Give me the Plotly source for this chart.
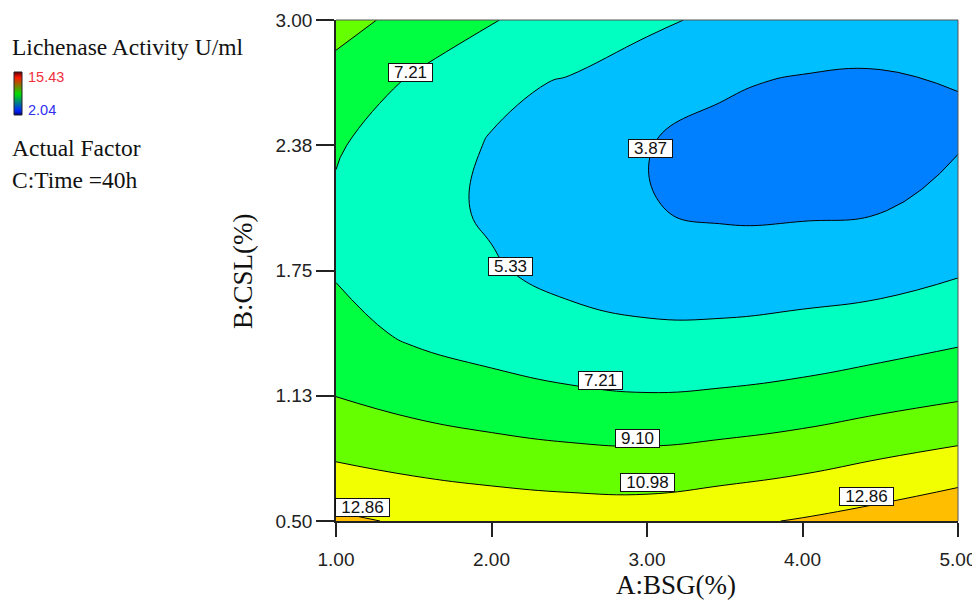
import numpy as np
import plotly.graph_objects as go

# The page places the figure 8 px from the window's top-left corner.
OFF = 8
W, H = 980 - OFF, 604 - OFF

# ---------------- data ----------------
bsg = [1.0, 1.5, 2.0, 2.5, 3.0, 3.5, 4.0, 4.5, 5.0]          # A: BSG (%)
csl = [0.5, 0.8125, 1.125, 1.4375, 1.75, 2.0625, 2.375, 2.6875, 3.0]  # B: CSL (%)
# Lichenase activity (U/ml); one row per CSL value, columns follow bsg
activity = [
    [13.20, 12.60, 12.30, 12.10, 12.06, 12.50, 13.00, 13.60, 14.40],
    [10.85, 10.34, 9.94, 9.64, 9.53, 9.84, 10.29, 10.95, 11.52],
    [9.07, 8.39, 7.89, 7.50, 7.30, 7.45, 7.78, 8.32, 8.85],
    [7.85, 6.90, 6.36, 5.87, 5.60, 5.63, 5.85, 6.22, 6.74],
    [7.06, 6.14, 5.49, 4.84, 4.49, 4.38, 4.49, 4.60, 5.14],
    [6.95, 5.90, 5.11, 4.39, 3.92, 3.69, 3.70, 3.80, 4.22],
    [7.38, 6.17, 5.22, 4.50, 3.90, 3.56, 3.46, 3.50, 3.81],
    [8.34, 6.97, 5.70, 5.19, 4.51, 3.99, 3.75, 3.72, 3.88],
    [9.80, 8.45, 7.30, 6.45, 5.63, 4.99, 4.66, 4.44, 4.55],
]
levels = [5.33, 7.21, 9.10, 10.98, 12.86]
low_level = 3.87
x_ticks = [1.0, 2.0, 3.0, 4.0, 5.0]
x_ticktext = ["1.00", "2.00", "3.00", "4.00", "5.00"]
y_ticks = [0.5, 1.125, 1.75, 2.375, 3.0]
y_ticktext = ["0.50", "1.13", "1.75", "2.38", "3.00"]
# contour label boxes: text, BSG, CSL
label_text = ["7.21", "5.33", "3.87", "7.21", "9.10", "10.98", "12.86", "12.86"]
label_x = [1.48, 2.12, 3.02, 2.70, 2.94, 3.00, 1.17, 4.41]
label_y = [2.74, 1.77, 2.36, 1.20, 0.91, 0.69, 0.565, 0.62]
range_min, range_max = 2.04, 15.43

# ---------------- styling ----------------
band_colors = ["#00BFFF", "#00FFC0", "#00FF40", "#66FF00", "#F2FF00", "#FFBF00"]
deep_blue = "#0080FF"
n = len(band_colors)
cscale = []
for i, c in enumerate(band_colors):
    lo = max(0, (i - 0.5) / (n - 1))
    hi = min(1, (i + 0.5) / (n - 1))
    cscale += [[lo, c], [hi, c]]

step = (levels[-1] - levels[0]) / (len(levels) - 1)

# layout positions measured on the screenshot (window pixels)
PX0, PX1, PY0, PY1 = 336, 958, 20, 521


def px(x):
    return (x - OFF) / W


def py(y):
    return 1 - (y - OFF) / H


fig = go.Figure()
fig.add_trace(go.Contour(
    x=bsg, y=csl, z=activity,
    colorscale=cscale, showscale=False,
    contours=dict(start=levels[0], end=levels[-1] + 0.01, size=step, coloring="fill"),
    line=dict(color="black", width=1, smoothing=1.3),
    hoverinfo="skip",
))
fig.add_trace(go.Contour(
    x=bsg, y=csl, z=activity,
    contours=dict(type="constraint", operation=">", value=low_level),
    fillcolor=deep_blue,
    line=dict(color="black", width=1, smoothing=1.3),
    showscale=False, hoverinfo="skip",
))

# small gradient legend bar
grad = np.linspace(range_min, range_max, 44)
fig.add_trace(go.Heatmap(
    z=[[v] for v in grad], y=grad, x=[0],
    colorscale=[[0, "#000070"], [0.12, "#0028FF"], [0.5, "#00E000"],
                [0.88, "#FF1800"], [1, "#700000"]],
    showscale=False, xaxis="x2", yaxis="y2", hoverinfo="skip",
))

tickfont = dict(family="Liberation Sans, Arial", size=19, color="#222")
fig.update_layout(
    width=W, height=H,
    margin=dict(l=0, r=0, t=0, b=0, autoexpand=False),
    paper_bgcolor="white", plot_bgcolor="white",
    showlegend=False,
    xaxis=dict(
        domain=[px(PX0), px(PX1)], range=[1, 5], automargin=False,
        tickvals=x_ticks, ticktext=x_ticktext,
        ticks="outside", ticklen=14, tickwidth=1.5, tickcolor="#222",
        ticklabelstandoff=6,
        showline=True, linecolor="#222", linewidth=1.5,
        showgrid=False, zeroline=False, tickfont=tickfont,
    ),
    yaxis=dict(
        domain=[py(PY1), py(PY0)], range=[0.5, 3.0], automargin=False,
        tickvals=y_ticks, ticktext=y_ticktext,
        ticks="outside", ticklen=18, tickwidth=1.5, tickcolor="#222",
        showline=True, linecolor="#222", linewidth=1.5,
        showgrid=False, zeroline=False, tickfont=tickfont,
    ),
    xaxis2=dict(domain=[px(14), px(22)], anchor="y2", visible=False, range=[-0.5, 0.5],
                automargin=False),
    yaxis2=dict(domain=[py(115), py(72)], anchor="x2", visible=False,
                range=[range_min, range_max], automargin=False),
)

# frame: top and right borders, legend bar outline
fig.add_shape(type="line", xref="paper", yref="paper",
              x0=px(PX0), x1=px(PX1), y0=py(PY0), y1=py(PY0),
              line=dict(color="#555", width=1))
fig.add_shape(type="line", xref="paper", yref="paper",
              x0=px(PX1), x1=px(PX1), y0=py(PY0), y1=py(PY1),
              line=dict(color="#555", width=1))
fig.add_shape(type="rect", xref="paper", yref="paper",
              x0=px(14), x1=px(22), y0=py(115), y1=py(72),
              line=dict(color="#222", width=1))

# contour label boxes
for t, lx, ly in zip(label_text, label_x, label_y):
    fig.add_annotation(x=lx, y=ly, xref="x", yref="y", text=t, showarrow=False,
                       font=dict(family="Liberation Sans, Arial", size=17, color="#111"),
                       bgcolor="white", bordercolor="#111", borderwidth=1, borderpad=0,
                       width=10 * len(t) + 3, height=17)

serif = "Liberation Serif, Times New Roman"


def txt(x, y, s, size, color="#111", xanchor="left", angle=0, family=serif):
    fig.add_annotation(x=px(x), y=py(y), xref="paper", yref="paper", text=s,
                       showarrow=False, xanchor=xanchor, yanchor="middle", textangle=angle,
                       font=dict(family=family, size=size, color=color))


txt(10, 47, "Lichenase Activity U/ml", 23.5)
txt(26, 77, f"{range_max:.2f}", 14.5, color="#F0303C", family="Liberation Sans, Arial")
txt(26, 110, f"{range_min:.2f}", 14.5, color="#3030F0", family="Liberation Sans, Arial")
txt(10, 148, "Actual Factor", 23.5)
txt(10, 180, "C:Time =40h", 23.5)
txt(676, 585, "A:BSG(%)", 27, xanchor="center")
txt(243, 271, "B:CSL(%)", 27, xanchor="center", angle=-90)

fig.write_html("out.html")
